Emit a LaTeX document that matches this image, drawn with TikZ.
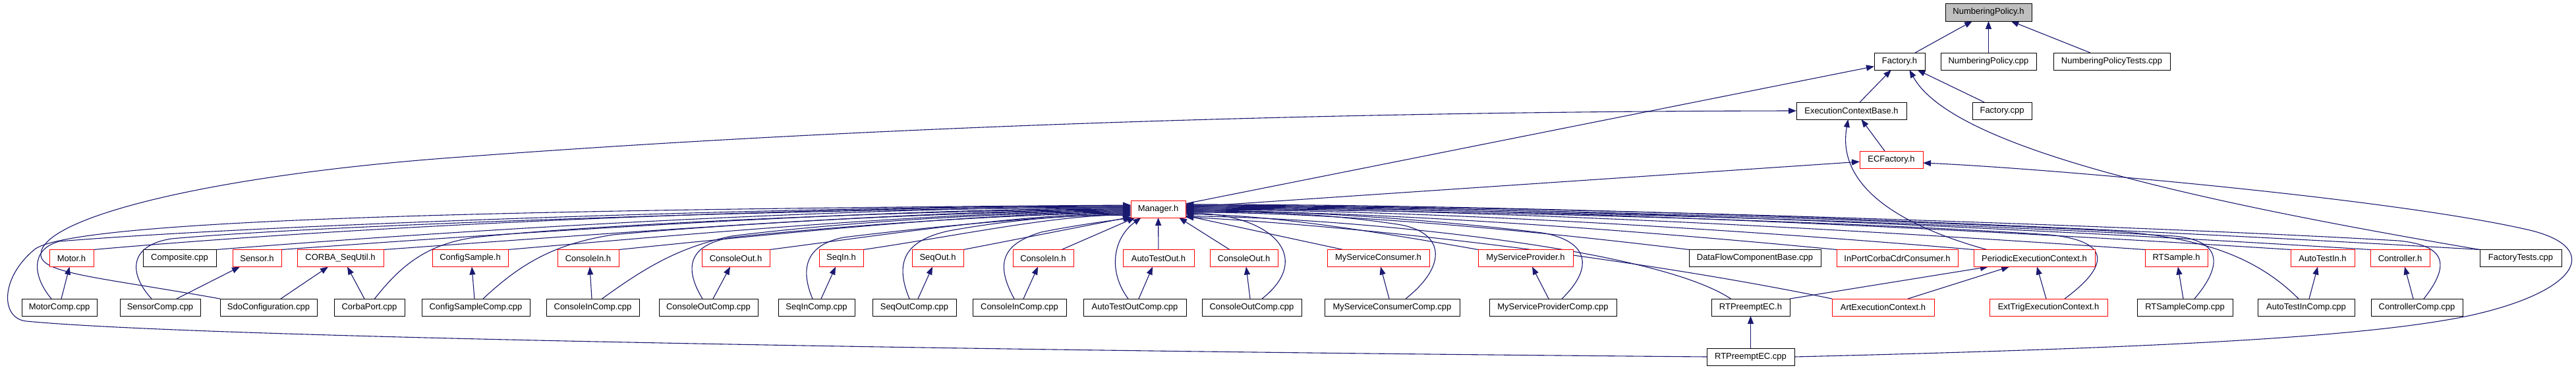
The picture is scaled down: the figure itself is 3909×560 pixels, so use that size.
\documentclass[tikz,border=0pt]{standalone}
\usepackage{fontspec}
\setmainfont{Liberation Sans}
\usetikzlibrary{arrows.meta,calc}
\definecolor{edgec}{HTML}{191970}
\definecolor{grayfill}{HTML}{BFBFBF}
\pgfdeclarelayer{edgelayer}
\pgfsetlayers{edgelayer,main}
\begin{document}
\begin{tikzpicture}[x=1pt,y=-1pt,
  box/.style={rectangle, draw, minimum height=26pt, inner sep=0pt, outer sep=0pt, line width=1pt, font=\fontsize{13}{15}\selectfont, fill=white},
  blk/.style={box, draw=black},
  redbox/.style={box, draw=red},
  edge/.style={draw=edgec, line width=1.1pt, -{Triangle[length=12pt,width=9pt]}}
]
\begin{pgfonlayer}{edgelayer}
\fill[white] (0,0) rectangle (3909,560);
\end{pgfonlayer}
\useasboundingbox (0,0) rectangle (3909,560);
% ---------- nodes ----------
\node[blk, fill=grayfill, minimum width=131pt, minimum height=27pt] (np) at (3017.5,18.5) {NumberingPolicy.h};
\node[blk, minimum width=77pt] (facth) at (2882.5,93) {Factory.h};
\node[blk, minimum width=145pt] (npcpp) at (3017.5,93) {NumberingPolicy.cpp};
\node[blk, minimum width=177pt] (nptests) at (3204.5,93) {NumberingPolicyTests.cpp};
\node[blk, minimum width=167pt] (ecb) at (2809.5,168) {ExecutionContextBase.h};
\node[blk, minimum width=90pt] (factcpp) at (3038,168) {Factory.cpp};
\node[redbox, minimum width=96pt] (ecf) at (2870,242) {ECFactory.h};
\node[redbox, minimum width=83pt] (mgr) at (1757.5,317) {Manager.h};
% row 6
\node[redbox, minimum width=67pt] (motorh) at (108.5,391.5) {Motor.h};
\node[blk, minimum width=111pt] (composite) at (272.5,391.5) {Composite.cpp};
\node[redbox, minimum width=74pt] (sensorh) at (390,391.5) {Sensor.h};
\node[redbox, minimum width=131pt] (corbaseq) at (516.5,391.5) {CORBA\_SeqUtil.h};
\node[redbox, minimum width=115pt] (configh) at (713.5,391.5) {ConfigSample.h};
\node[redbox, minimum width=93pt] (cinh1) at (892.5,391.5) {ConsoleIn.h};
\node[redbox, minimum width=103pt] (couth1) at (1116.5,391.5) {ConsoleOut.h};
\node[redbox, minimum width=67pt] (seqinh) at (1276.5,391.5) {SeqIn.h};
\node[redbox, minimum width=78pt] (seqouth) at (1423,391.5) {SeqOut.h};
\node[redbox, minimum width=92pt] (cinh2) at (1583,391.5) {ConsoleIn.h};
\node[redbox, minimum width=108pt] (atouth) at (1758,391.5) {AutoTestOut.h};
\node[redbox, minimum width=103pt] (couth2) at (1887.5,391.5) {ConsoleOut.h};
\node[redbox, minimum width=155pt] (msconsh) at (2091.5,391.5) {MyServiceConsumer.h};
\node[redbox, minimum width=144pt] (msprovh) at (2315,391.5) {MyServiceProvider.h};
\node[blk, minimum width=200pt] (dfcb) at (2663,391.5) {DataFlowComponentBase.cpp};
\node[redbox, minimum width=184pt] (inport) at (2879,391.5) {InPortCorbaCdrConsumer.h};
\node[redbox, minimum width=184pt] (pec) at (3087,391.5) {PeriodicExecutionContext.h};
\node[redbox, minimum width=95pt] (rtsh) at (3302.5,391.5) {RTSample.h};
\node[redbox, minimum width=97pt] (atinh) at (3524.5,391.5) {AutoTestIn.h};
\node[redbox, minimum width=90pt] (ctrlh) at (3642,391.5) {Controller.h};
\node[blk, minimum width=124pt] (ftests) at (3825,391.5) {FactoryTests.cpp};
% row 7
\node[blk, minimum width=114pt] (motorcomp) at (90,466) {MotorComp.cpp};
\node[blk, minimum width=122pt] (sensorcomp) at (243,466) {SensorComp.cpp};
\node[blk, minimum width=147pt] (sdoconf) at (407.5,466) {SdoConfiguration.cpp};
\node[blk, minimum width=107pt] (corbaport) at (560.5,466) {CorbaPort.cpp};
\node[blk, minimum width=164pt] (configcomp) at (722,466) {ConfigSampleComp.cpp};
\node[blk, minimum width=141pt] (cincomp1) at (899.5,466) {ConsoleInComp.cpp};
\node[blk, minimum width=150pt] (coutcomp1) at (1075,466) {ConsoleOutComp.cpp};
\node[blk, minimum width=116pt] (seqincomp) at (1239,466) {SeqInComp.cpp};
\node[blk, minimum width=127pt] (seqoutcomp) at (1387.5,466) {SeqOutComp.cpp};
\node[blk, minimum width=142pt] (cincomp2) at (1547,466) {ConsoleInComp.cpp};
\node[blk, minimum width=156pt] (atoutcomp) at (1722,466) {AutoTestOutComp.cpp};
\node[blk, minimum width=151pt] (coutcomp2) at (1899.5,466) {ConsoleOutComp.cpp};
\node[blk, minimum width=205pt] (msconscomp) at (2112.5,466) {MyServiceConsumerComp.cpp};
\node[blk, minimum width=193pt] (msprovcomp) at (2356.5,466) {MyServiceProviderComp.cpp};
\node[blk, minimum width=119pt] (rtpech) at (2656.5,466) {RTPreemptEC.h};
\node[redbox, minimum width=155pt] (artec) at (2857.5,466) {ArtExecutionContext.h};
\node[redbox, minimum width=179pt] (exttrig) at (3108.5,466) {ExtTrigExecutionContext.h};
\node[blk, minimum width=145pt] (rtscomp) at (3315.5,466) {RTSampleComp.cpp};
\node[blk, minimum width=147pt] (atincomp) at (3499.5,466) {AutoTestInComp.cpp};
\node[blk, minimum width=139pt] (ctrlcomp) at (3667.5,466) {ControllerComp.cpp};
% row 8
\node[blk, minimum width=133pt] (rtpeccpp) at (2656.5,541) {RTPreemptEC.cpp};
\begin{pgfonlayer}{edgelayer}
% ---------- edges: upper part ----------
\draw[edge] (facth) -- (np);
\draw[edge] (npcpp) -- (np);
\draw[edge] (nptests) -- (np);
\draw[edge] (ecb) -- (facth);
\draw[edge] (factcpp) -- (facth);
\draw[edge] (mgr) -- (facth);
\draw[edge] (mgr) -- (ecf);
\draw[edge] ($(ecf.north)+(-10,0)$) -- ($(ecb.south)+(15,0)$);
\draw[edge] ($(pec.north west)+(20,0)$) .. controls (2840,330) and (2790,260) .. ($(ecb.south)+(-5,0)$);
\draw[edge] (ftests.north west) .. controls (3300,300) and (2960,220) .. ($(facth.south)+(15,0)$);
\draw[edge] (sdoconf.north west) .. controls (150,420) and (60,415) .. (62,385) .. controls (64,330) and (320,265) .. (700,238) .. controls (1300,193) and (2000,169) .. (ecb.west);
\draw[edge] (rtpeccpp.east) .. controls (3300,527) and (3600,510) .. (3750,478) .. controls (3920,440) and (3950,372) .. (3830,347) .. controls (3620,300) and (3100,255) .. ($(ecf.east)+(0,5)$);
\draw[edge] (rtpeccpp.west) .. controls (1500,532) and (300,512) .. (40,487) .. controls (0,483) and (0,420) .. (54,377) .. controls (120,335) and (700,318) .. ($(mgr.west)+(0,-6)$);
\draw[edge] (rtpeccpp) -- (rtpech);
% ---------- edges: comp -> own header ----------
\draw[edge] ($(motorcomp.north)+(3,0)$) -- ($(motorh.south)+(-3,0)$);
\draw[edge] ($(sensorcomp.north)+(25,0)$) -- ($(sensorh.south)+(-26,0)$);
\draw[edge] ($(sdoconf.north)+(18.5,0)$) -- ($(corbaseq.south)+(-18.5,0)$);
\draw[edge] ($(corbaport.north)+(-7.5,0)$) -- ($(corbaseq.south)+(10.5,0)$);
\draw[edge] ($(configcomp.north)+(-2,0)$) -- ($(configh.south)+(2.5,0)$);
\draw[edge] ($(cincomp1.north)+(-1.5,0)$) -- ($(cinh1.south)+(2.5,0)$);
\draw[edge] ($(coutcomp1.north)+(7,0)$) -- ($(couth1.south)+(-8.5,0)$);
\draw[edge] ($(seqincomp.north)+(7,0)$) -- ($(seqinh.south)+(-8.5,0)$);
\draw[edge] ($(seqoutcomp.north)+(5.5,0)$) -- ($(seqouth.south)+(-8,0)$);
\draw[edge] ($(cincomp2.north)+(6,0)$) -- ($(cinh2.south)+(-8,0)$);
\draw[edge] ($(atoutcomp.north)+(6,0)$) -- ($(atouth.south)+(-9,0)$);
\draw[edge] ($(coutcomp2.north)+(-2.5,0)$) -- ($(couth2.south)+(3.5,0)$);
\draw[edge] ($(msconscomp.north)+(-4.5,0)$) -- ($(msconsh.south)+(3.5,0)$);
\draw[edge] ($(msprovcomp.north)+(-6.5,0)$) -- ($(msprovh.south)+(10,0)$);
\draw[edge] (rtpech.north east) -- ($(pec.south west)+(22,0)$);
\draw[edge] ($(artec.north)+(37.5,0)$) -- ($(pec.south)+(-38,0)$);
\draw[edge] ($(exttrig.north)+(-3.5,0)$) -- ($(pec.south)+(4,0)$);
\draw[edge] ($(rtscomp.north)+(-2.5,0)$) -- ($(rtsh.south)+(2.5,0)$);
\draw[edge] ($(atincomp.north)+(4.5,0)$) -- ($(atinh.south)+(-7.5,0)$);
\draw[edge] ($(ctrlcomp.north)+(-5.5,0)$) -- ($(ctrlh.south)+(7,0)$);
% ---------- edges into Manager.h from the left ----------
\draw[edge] (motorh.north east) .. controls (600,338) and (1250,313) .. ($(mgr.west)+(0,-4)$);
\draw[edge] (composite.north east) .. controls (750,345) and (1300,314) .. ($(mgr.west)+(0,-3)$);
\draw[edge] (sensorh.north east) .. controls (850,348) and (1350,316) .. ($(mgr.west)+(0,-1)$);
\draw[edge] (corbaseq.north east) .. controls (950,352) and (1400,318) .. ($(mgr.west)+(0,1)$);
\draw[edge] (configh.north east) .. controls (1100,350) and (1450,320) .. ($(mgr.west)+(0,3)$);
\draw[edge] (cinh1.north east) .. controls (1200,352) and (1500,322) .. ($(mgr.west)+(0,5)$);
\draw[edge] (couth1.north east) .. controls (1350,355) and (1550,324) .. ($(mgr.west)+(0,7)$);
\draw[edge] (seqinh.north east) .. controls (1450,358) and (1600,326) .. ($(mgr.west)+(0,9)$);
\draw[edge] (seqouth.north east) -- ($(mgr.west)+(0,12)$);
\draw[edge] ($(cinh2.north east)+(-18,0)$) -- ($(mgr.south)+(-35,0)$);
\draw[edge] (atouth) -- (mgr);
\draw[edge] ($(motorcomp.north)+(-12,0)$) .. controls (50,420) and (45,378) .. (90,366) .. controls (400,340) and (1250,312) .. ($(mgr.west)+(0,-5)$);
\draw[edge] ($(sensorcomp.north)+(-13,0)$) .. controls (195,415) and (195,372) .. (260,362) .. controls (500,340) and (1300,314) .. ($(mgr.west)+(0,-2)$);
\draw[edge] ($(corbaport.north)+(8,0)$) .. controls (610,400) and (650,370) .. (720,360) .. controls (900,340) and (1400,318) .. ($(mgr.west)+(0,0)$);
\draw[edge] ($(configcomp.north)+(11,0)$) .. controls (790,400) and (840,370) .. (930,356) .. controls (1100,340) and (1450,320) .. ($(mgr.west)+(0,2)$);
\draw[edge] ($(cincomp1.north)+(14,0)$) .. controls (980,405) and (1030,375) .. (1110,358) .. controls (1250,340) and (1500,322) .. ($(mgr.west)+(0,4)$);
\draw[edge] ($(coutcomp1.north)+(-9,0)$) .. controls (1040,410) and (1040,372) .. (1110,360) .. controls (1300,340) and (1550,324) .. ($(mgr.west)+(0,6)$);
\draw[edge] ($(seqincomp.north)+(-6,0)$) .. controls (1215,410) and (1220,372) .. (1280,360) .. controls (1400,345) and (1600,326) .. ($(mgr.west)+(0,8)$);
\draw[edge] ($(seqoutcomp.north)+(-7.5,0)$) .. controls (1358,400) and (1370,365) .. (1440,350) .. controls (1550,330) and (1650,325) .. ($(mgr.west)+(0,10)$);
\draw[edge] ($(cincomp2.north)+(-8,0)$) .. controls (1510,400) and (1520,370) .. (1580,352) .. controls (1640,340) and (1690,334) .. ($(mgr.south west)+(2,0)$);
\draw[edge] ($(atoutcomp.north)+(-10,0)$) .. controls (1680,410) and (1690,360) .. ($(mgr.south)+(-26,0)$);
% ---------- edges into Manager.h from the right ----------
\draw[edge] ($(couth2.north west)+(30,0)$) -- ($(mgr.south east)+(-10,0)$);
\draw[edge] ($(coutcomp2.north east)+(-60,0)$) .. controls (1995,390) and (1930,325) .. ($(mgr.east)+(0,6)$);
\draw[edge] ($(msconsh.north west)+(24,0)$) -- ($(mgr.east)+(0,10)$);
\draw[edge] ($(msconscomp.north east)+(-82,0)$) .. controls (2200,400) and (2190,350) .. (2120,340) .. controls (2000,322) and (1900,321) .. ($(mgr.east)+(0,4)$);
\draw[edge] (msprovh.north west) .. controls (2110,355) and (1930,325) .. ($(mgr.east)+(0,8)$);
\draw[edge] ($(msprovcomp.north east)+(-83,0)$) .. controls (2420,405) and (2410,365) .. (2340,353) .. controls (2150,330) and (1950,319) .. ($(mgr.east)+(0,2)$);
\draw[edge] (dfcb.north west) .. controls (2330,350) and (2030,322) .. ($(mgr.east)+(0,5)$);
\draw[edge] ($(rtpech.north)+(-30,0)$) .. controls (2500,370) and (2000,328) .. ($(mgr.east)+(0,11)$);
\draw[edge] (artec.north west) .. controls (2500,395) and (2100,345) .. ($(mgr.east)+(0,12)$);
\draw[edge] (inport.north west) .. controls (2490,350) and (2100,320) .. ($(mgr.east)+(0,3)$);
\draw[edge] (pec.north west) .. controls (2640,348) and (2160,318) .. ($(mgr.east)+(0,1)$);
\draw[edge] ($(exttrig.north east)+(-65,0)$) .. controls (3205,400) and (3200,365) .. (3110,356) .. controls (2800,335) and (2200,318) .. ($(mgr.east)+(0,0)$);
\draw[edge] (rtsh.north west) .. controls (2820,348) and (2240,316) .. ($(mgr.east)+(0,-1)$);
\draw[edge] ($(rtscomp.north east)+(-58,0)$) .. controls (3375,400) and (3370,365) .. (3300,358) .. controls (3000,340) and (2300,316) .. ($(mgr.east)+(0,-2)$);
\draw[edge] (atinh.north west) .. controls (2970,346) and (2300,314) .. ($(mgr.east)+(0,-3)$);
\draw[edge] ($(atincomp.north west)+(62,0)$) .. controls (3420,385) and (3330,358) .. (3200,350) .. controls (2900,335) and (2300,314) .. ($(mgr.east)+(0,-4)$);
\draw[edge] (ctrlh.north west) .. controls (3060,345) and (2340,312) .. ($(mgr.east)+(0,-5)$);
\draw[edge] ($(ctrlcomp.north east)+(-59,0)$) .. controls (3720,400) and (3710,372) .. (3640,365) .. controls (3300,345) and (2400,312) .. ($(mgr.east)+(0,-6)$);
\draw[edge] (ftests.north west) .. controls (3180,344) and (2390,310) .. ($(mgr.east)+(0,-7)$);
\end{pgfonlayer}
\end{tikzpicture}
\end{document}
